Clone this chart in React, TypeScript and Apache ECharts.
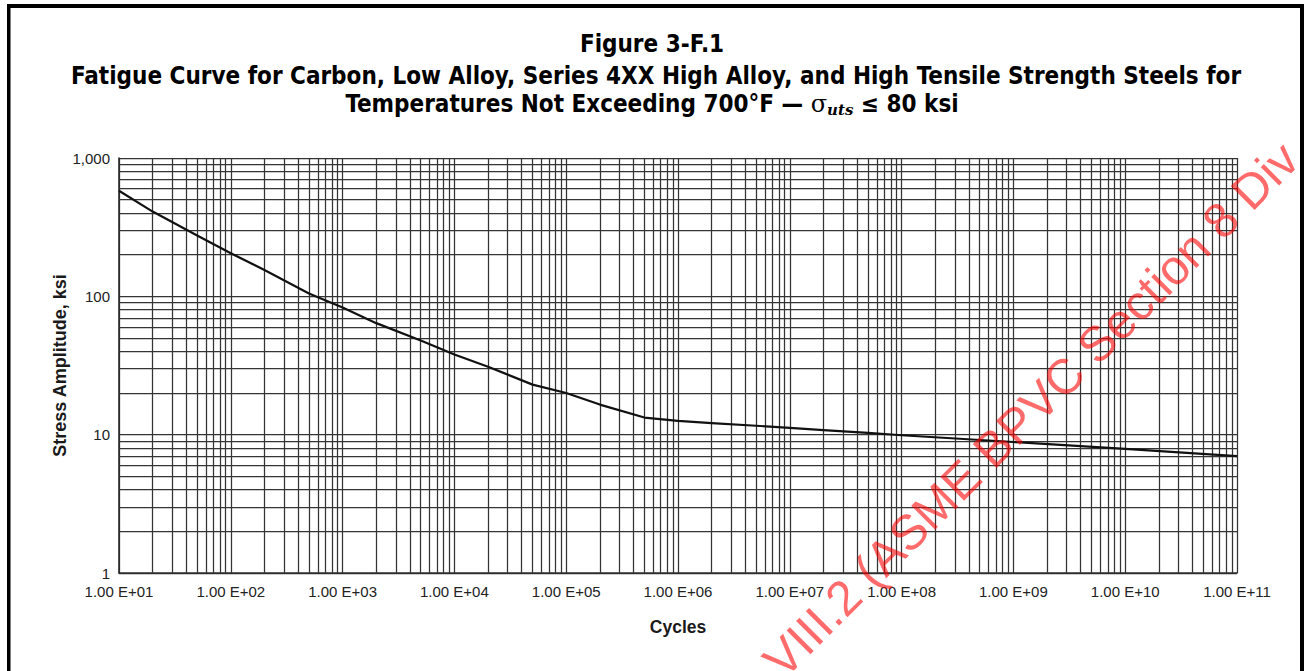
import React, { useEffect, useRef } from 'react';
import * as echarts from 'echarts';

// Fatigue curve (cycles vs stress amplitude, ksi)
const cycles = [1e1, 2e1, 5e1, 1e2, 2e2, 5e2, 1e3, 2e3, 5e3, 1e4, 2e4, 5e4, 1e5, 2e5, 5e5, 1e6, 2e6, 5e6, 1e7, 2e7, 5e7, 1e8, 1e9, 1e10, 1e11];
const stressKsi = [580, 410, 275, 205, 155, 105, 83, 64, 48, 38, 31, 23, 20, 16.5, 13.3, 12.6, 12.1, 11.6, 11.2, 10.8, 10.3, 9.9, 8.85, 7.9, 7.0];

// Axis ranges and labels
const xMin = 1e1;
const xMax = 1e11;
const yMin = 1;
const yMax = 1000;
const xDecades = [1e1, 1e2, 1e3, 1e4, 1e5, 1e6, 1e7, 1e8, 1e9, 1e10];
const yDecades = [1, 10, 100];
const minorMultipliers = [2, 3, 4, 5, 6, 7, 8, 9];

const titleLine1 = 'Figure 3-F.1';
const titleLine2 = 'Fatigue Curve for Carbon, Low Alloy, Series 4XX High Alloy, and High Tensile Strength Steels for';
const titleLine3a = 'Temperatures Not Exceeding 700°F — ';
const titleLine3b = ' ≤ 80 ksi';
const xAxisName = 'Cycles';
const yAxisName = 'Stress Amplitude, ksi';
const watermark = 'S VIII.2 (ASME BPVC Section 8 Div';

const fmtX = (v: number) => {
  const e = Math.round(Math.log10(v));
  return '1.00 E+' + (e < 10 ? '0' + e : String(e));
};
const fmtY = (v: number) => Math.round(v).toLocaleString('en-US');

export default function App() {
  const ref = useRef<HTMLDivElement>(null);
  useEffect(() => {
    document.body.style.margin = '0';
    const chart = echarts.init(ref.current!, null, { renderer: 'svg' });
    const gridColor = '#343434';
    const xMinor: any[] = [];
    xDecades.forEach((d) => minorMultipliers.forEach((m) => xMinor.push({ xAxis: d * m })));
    const yMinor: any[] = [];
    yDecades.forEach((d) => minorMultipliers.forEach((m) => yMinor.push({ yAxis: d * m })));
    const titleFont = '"DejaVu Sans Condensed", "DejaVu Sans", sans-serif';
    const labelFont = '"Liberation Sans", Arial, sans-serif';
    const option: any = {
      animation: false,
      backgroundColor: '#ffffff',
      grid: { left: 119, right: 67, top: 158, bottom: 98, containLabel: false },
      xAxis: {
        type: 'log',
        logBase: 10,
        min: xMin,
        max: xMax,
        interval: 1,
        name: xAxisName,
        nameLocation: 'middle',
        nameGap: 45,
        nameMoveOverlap: false,
        nameTextStyle: { fontFamily: labelFont, fontWeight: 'bold', fontSize: 17.5, color: '#1a1a1a' },
        axisLine: { show: true, lineStyle: { color: '#2a2a2a', width: 1.6 } },
        axisTick: { show: false },
        axisLabel: { formatter: fmtX, fontFamily: labelFont, fontSize: 15, color: '#222', margin: 11 },
        splitLine: { show: true, lineStyle: { color: gridColor, width: 1.25 } },
      },
      yAxis: {
        type: 'log',
        logBase: 10,
        min: yMin,
        max: yMax,
        interval: 1,
        name: yAxisName,
        nameLocation: 'middle',
        nameGap: 50,
        nameMoveOverlap: false,
        nameTextStyle: { fontFamily: labelFont, fontWeight: 'bold', fontSize: 18, color: '#1a1a1a' },
        axisLine: { show: true, lineStyle: { color: '#2a2a2a', width: 1.6 } },
        axisTick: { show: false },
        axisLabel: { formatter: fmtY, fontFamily: labelFont, fontSize: 15, color: '#222', margin: 9 },
        splitLine: { show: true, lineStyle: { color: gridColor, width: 1.25 } },
      },
      series: [
        {
          type: 'line',
          name: 'grid',
          data: [],
          silent: true,
          z: 1,
          markLine: {
            silent: true,
            symbol: ['none', 'none'],
            label: { show: false },
            lineStyle: { color: gridColor, width: 1.25, type: 'solid' },
            emphasis: { disabled: true },
            data: [...xMinor, ...yMinor],
          },
        },
        {
          type: 'line',
          name: 'Fatigue curve',
          data: cycles.map((c, i) => [c, stressKsi[i]]),
          showSymbol: false,
          symbol: 'none',
          smooth: false,
          z: 5,
          lineStyle: { color: '#111', width: 2.2, join: 'round' },
        },
      ],
      graphic: [
        { type: 'rect', shape: { x: 7, y: 4, width: 1297, height: 4 }, style: { fill: '#000' }, silent: true },
        { type: 'rect', shape: { x: 7, y: 4, width: 3.5, height: 667 }, style: { fill: '#000' }, silent: true },
        { type: 'rect', shape: { x: 1300, y: 4, width: 4, height: 667 }, style: { fill: '#000' }, silent: true },
        {
          type: 'text', x: 652, y: 44, silent: true,
          style: { text: titleLine1, font: `bold 24px ${titleFont}`, fill: '#000', align: 'center', verticalAlign: 'middle' },
        },
        {
          type: 'text', x: 656, y: 76, silent: true,
          style: { text: titleLine2, font: `bold 24px ${titleFont}`, fill: '#000', align: 'center', verticalAlign: 'middle' },
        },
        {
          type: 'text', x: 652, y: 104, silent: true,
          style: {
            text: `{a|${titleLine3a}}{s|σ}{u|uts}{a|${titleLine3b}}`,
            align: 'center', verticalAlign: 'middle',
            rich: {
              a: { font: `bold 24px ${titleFont}`, fill: '#000', color: '#000' },
              s: { font: `24px "DejaVu Serif", serif`, color: '#000', fill: '#000' },
              u: { font: `italic bold 15px "DejaVu Serif", serif`, color: '#000', fill: '#000', padding: [12, 0, 0, 0] },
            },
          },
        },
        {
          type: 'text', x: 722, y: 684, rotation: Math.PI / 4, silent: true, z: 100,
          style: { text: watermark, font: '49px "Liberation Sans", Arial, sans-serif', fill: 'rgba(255,0,0,0.58)', align: 'left', verticalAlign: 'alphabetic' },
        },
      ],
    };
    chart.setOption(option);
    return () => chart.dispose();
  }, []);
  return <div ref={ref} style={{ position: 'fixed', left: 0, top: 0, width: 1304, height: 671, background: '#fff' }} />;
}
